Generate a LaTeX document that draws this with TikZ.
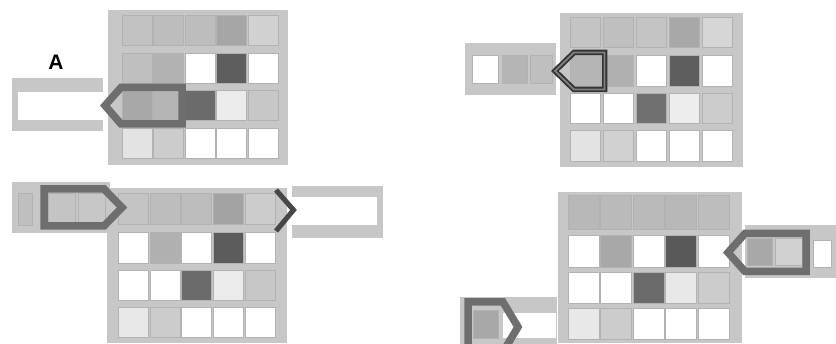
\documentclass[tikz,border=0pt]{standalone}
\usepackage{fontspec}
\setmainfont{Liberation Sans}
\newcommand{\prow}[6]{%
  \foreach \v [count=\i from 0] in {#6} {%
    \fill[cellst, fill=black!\v] ({#1+#2*\i},#3) rectangle ++(#4,#5);}}
\begin{document}
\begin{tikzpicture}[x=1pt,y=-1pt,
  framest/.style={fill=black!22},
  cellst/.style={draw=black!30, line width=0.5pt},
  arrowst/.style={draw=black!57, line width=7.5pt, line join=miter},
  chevst/.style={draw=black!72, line width=5pt, line join=miter},
  darkarrow/.style={draw=black!80, line width=5.5pt, line join=miter},
  darkinner/.style={draw=black!50, line width=1.8pt, line join=miter}]
\useasboundingbox (0,0) rectangle (836,344);
\clip (0,0) rectangle (836,344);

% ---------- Panel A ----------
\fill[framest] (108,10) rectangle (288,165);
\prow{122}{31.5}{15}{30}{30}{24,26,26,35,18}
\prow{122}{31.5}{53}{30}{30}{25,30,0,63,0}
\prow{122}{31.5}{90}{30}{30}{34,29,58,8,22}
\prow{122}{31.5}{128}{30}{30}{11,20,0,0,0}
\fill[framest] (12,78) rectangle (103,131);
\fill[white] (18,92) rectangle (103,120);
\draw[arrowst] (105,105.5) -- (121,87.5) -- (182,87.5) -- (182,124) -- (121,124) -- cycle;
\node[font=\bfseries\fontsize{21}{21}\selectfont] (lblA) at (56,62.5) {A};

% ---------- Panel B ----------
\fill[framest] (107,188) rectangle (287,343);
\prow{118}{31.8}{193}{30}{31}{23,26,26,36,20}
\prow{118}{31.8}{232}{30}{31}{0,31,0,64,0}
\prow{118}{31.8}{270}{30}{30}{0,0,58,8,22}
\prow{118}{31.8}{307}{30}{30}{9,20,0,0,0}
\fill[framest] (12,182) rectangle (110,233);
\fill[cellst, fill=black!25] (18,193) rectangle (32,225);
\fill[cellst, fill=black!23] (48,193) rectangle (75,225);
\fill[cellst, fill=black!22] (78,193) rectangle (105,225);
\draw[arrowst] (44,189) -- (104,189) -- (122,207.5) -- (104,226) -- (44,226) -- cycle;
\fill[framest] (292,186) rectangle (383,238);
\fill[white] (292,197) rectangle (377,225);
\draw[chevst] (276,190) -- (293.5,210) -- (276,231);

% ---------- Panel C ----------
\fill[framest] (560,13) rectangle (743,167);
\prow{570}{33}{17}{30}{30}{23,25,23,34,16}
\prow{570}{33}{55}{30}{31}{29,31,0,63,0}
\prow{570}{33}{93}{30}{30}{0,0,56,7,20}
\prow{570}{33}{130}{30}{31}{11,18,0,0,0}
\fill[framest] (465,43) rectangle (556,95);
\fill[cellst, fill=white] (472,55) rectangle (498,83);
\fill[cellst, fill=black!29] (502,55) rectangle (527,83);
\fill[cellst, fill=black!25] (530,55) rectangle (552,83);
\draw[darkarrow] (555,71) -- (574,52.5) -- (604.5,52.5) -- (604.5,89.5) -- (574,89.5) -- cycle;
\draw[darkinner] (555,71) -- (574,52.5) -- (604.5,52.5) -- (604.5,89.5) -- (574,89.5) -- cycle;

% ---------- Panel D ----------
\fill[framest] (558,192) rectangle (742,343);
\prow{568}{32.5}{195}{31}{34}{28,27,27,28,26}
\prow{568}{32.5}{235}{31}{32}{0,34,0,65,0}
\prow{568}{32.5}{272}{31}{31}{0,0,58,9,20}
\prow{568}{32.5}{308}{31}{31}{9,20,0,0,0}
\fill[framest] (745,225) rectangle (836,278);
\fill[cellst, fill=black!34] (747,238) rectangle (772,265);
\fill[cellst, fill=black!18] (775,238) rectangle (802,265);
\fill[cellst, fill=white] (813,240) rectangle (831,267);
\draw[arrowst] (728,252.5) -- (745,233.5) -- (806,233.5) -- (806,271.5) -- (745,271.5) -- cycle;
\fill[framest] (460,297) rectangle (557,344);
\fill[cellst, fill=black!34] (473,310) rectangle (498,338);
\fill[white] (503,313) rectangle (556,338);
\draw[arrowst] (468,302) -- (503,302) -- (518,327) -- (503,352) -- (468,352) -- cycle;
\end{tikzpicture}
\end{document}
